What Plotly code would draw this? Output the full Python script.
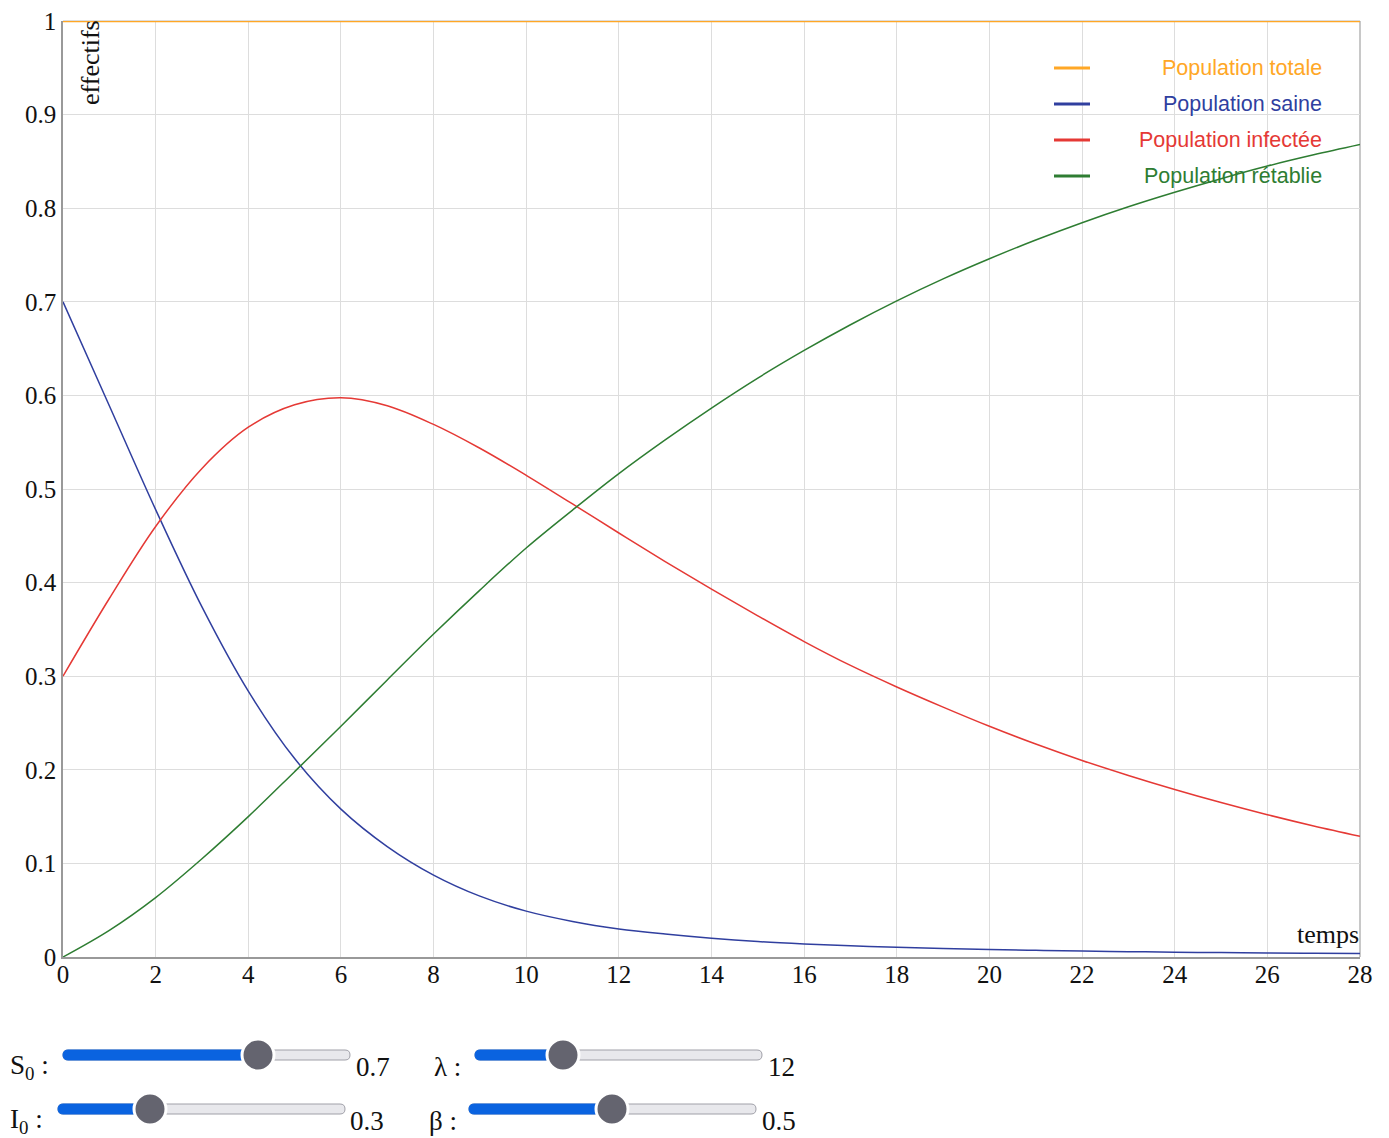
import plotly.graph_objects as go

# ---- data ----
temps = list(range(0, 29))
population_totale = [1.0, 1.0, 1.0, 1.0, 1.0, 1.0, 1.0, 1.0, 1.0, 1.0, 1.0, 1.0, 1.0, 1.0, 1.0,
                     1.0, 1.0, 1.0, 1.0, 1.0, 1.0, 1.0, 1.0, 1.0, 1.0, 1.0, 1.0, 1.0, 1.0]
population_saine = [0.700, 0.589, 0.478, 0.374, 0.284, 0.212, 0.158, 0.118, 0.0875, 0.065,
                    0.049, 0.038, 0.030, 0.0245, 0.0200, 0.0165, 0.0140, 0.0120, 0.0104, 0.0091,
                    0.0080, 0.0071, 0.0063, 0.0057, 0.0051, 0.0047, 0.0043, 0.0040, 0.0038]
population_infectee = [0.300, 0.383, 0.460, 0.522, 0.566, 0.590, 0.5975, 0.589, 0.569, 0.5435,
                       0.5146, 0.484, 0.453, 0.4225, 0.393, 0.3645, 0.337, 0.3115, 0.2885, 0.267,
                       0.2465, 0.2275, 0.210, 0.194, 0.179, 0.165, 0.152, 0.140, 0.129]
population_retablie = [0.0, 0.0285, 0.0635, 0.105, 0.150, 0.198, 0.2465, 0.296, 0.345, 0.392,
                       0.437, 0.4775, 0.5165, 0.5525, 0.5865, 0.6185, 0.648, 0.6755, 0.701, 0.7245,
                       0.746, 0.766, 0.7845, 0.8015, 0.817, 0.8315, 0.845, 0.857, 0.868]

series_names = ["Population totale", "Population saine", "Population infectée", "Population rétablie"]
series_colors = ["#FFA726", "#303F9F", "#E53935", "#2E7D32"]
series_values = [population_totale, population_saine, population_infectee, population_retablie]

x_ticks = list(range(0, 29, 2))
y_ticks = [0, 0.1, 0.2, 0.3, 0.4, 0.5, 0.6, 0.7, 0.8, 0.9, 1]
y_tick_labels = ["0", "0.1", "0.2", "0.3", "0.4", "0.5", "0.6", "0.7", "0.8", "0.9", "1"]

slider_labels = ["S<sub>0</sub> :", "I<sub>0</sub> :", "λ :", "β :"]
slider_values = ["0.7", "0.3", "12", "0.5"]

# ---- figure geometry ----
W, H = 1389, 1138
L, R, T, B = 63, 1360, 21, 957


def px(xp):
    return (xp - L) / (R - L)


def py(yp):
    return (B - yp) / (B - T)


fig = go.Figure()
for name, color, vals in zip(series_names, series_colors, series_values):
    width = 2.5 if name == "Population totale" else 1.5
    fig.add_trace(go.Scatter(x=temps, y=vals, mode="lines", name=name,
                             line=dict(color=color, width=width, shape="spline", smoothing=1.0),
                             showlegend=False, hoverinfo="skip"))

serif = "Liberation Serif, Times New Roman, serif"
sans = "Liberation Sans, Arial, sans-serif"

fig.update_layout(
    template="none",
    width=W, height=H,
    margin=dict(l=L, r=W - R, t=T, b=H - B, pad=0, autoexpand=False),
    paper_bgcolor="white", plot_bgcolor="white",
    font=dict(family=serif, size=25, color="#111"),
    xaxis=dict(range=[0, 28], tickvals=x_ticks, ticktext=[str(v) for v in x_ticks],
               showgrid=True, gridcolor="#dddddd", gridwidth=1.2, zeroline=False,
               showline=True, linecolor="#999999", linewidth=1.5, ticks="", ticklen=0,
               ticklabelstandoff=-6, automargin=False,
               tickfont=dict(family=serif, size=25, color="#111")),
    yaxis=dict(range=[0, 1], tickvals=y_ticks, ticktext=y_tick_labels,
               showgrid=True, gridcolor="#dddddd", gridwidth=1.2, zeroline=False,
               showline=True, linecolor="#999999", linewidth=1.5, ticks="", ticklen=0,
               automargin=False,
               tickfont=dict(family=serif, size=25, color="#111")),
)

shapes = []
annotations = []
# top and right border
shapes.append(dict(type="line", xref="paper", yref="paper", x0=0, x1=1, y0=1, y1=1,
                   line=dict(color="#d0d0d0", width=1.5), layer="below"))
shapes.append(dict(type="line", xref="paper", yref="paper", x0=1, x1=1, y0=0, y1=1,
                   line=dict(color="#c8c8c8", width=2), layer="below"))

# axis titles
annotations.append(dict(text="effectifs", xref="paper", yref="paper", x=px(74), y=py(18),
                        xanchor="left", yanchor="top", textangle=-90, showarrow=False,
                        font=dict(family=serif, size=26, color="#111")))
annotations.append(dict(text="temps", xref="paper", yref="paper", x=px(1361), y=py(951),
                        xanchor="right", yanchor="bottom", showarrow=False,
                        font=dict(family=serif, size=26, color="#111")))

# legend (custom, right-aligned text)
leg_y = [68, 104, 140, 176]
for name, color, yy in zip(series_names, series_colors, leg_y):
    shapes.append(dict(type="line", xref="paper", yref="paper", x0=px(1054), x1=px(1090),
                       y0=py(yy), y1=py(yy), line=dict(color=color, width=3)))
    annotations.append(dict(text=name, xref="paper", yref="paper", x=px(1324), y=py(yy),
                            xanchor="right", yanchor="middle", showarrow=False,
                            font=dict(family=sans, size=21.5, color=color)))

# sliders
slider_specs = [
    # (track x0, track x1, center y, knob x, label x, value x)
    (63, 350, 1055, 258, 8, 354),
    (58, 345, 1109, 150, 8, 348),
    (475, 762, 1055, 563, 432, 766),
    (469, 756, 1109, 612, 427, 760),
]


def rounded_bar(x0, x1, yc, h):
    r = h / 2
    return dict(type="path", xref="paper", yref="paper",
                path=(f"M {px(x0 + r)} {py(yc - r)} L {px(x1 - r)} {py(yc - r)} "
                      f"Q {px(x1)} {py(yc - r)} {px(x1)} {py(yc)} "
                      f"Q {px(x1)} {py(yc + r)} {px(x1 - r)} {py(yc + r)} "
                      f"L {px(x0 + r)} {py(yc + r)} "
                      f"Q {px(x0)} {py(yc + r)} {px(x0)} {py(yc)} "
                      f"Q {px(x0)} {py(yc - r)} {px(x0 + r)} {py(yc - r)} Z"))


for (tx0, tx1, yc, kx, lx, vx), lab, val in zip(slider_specs, slider_labels, slider_values):
    track = rounded_bar(tx0, tx1, yc, 10)
    track.update(fillcolor="#e8e8ec", line=dict(color="#a0a0a8", width=1))
    shapes.append(track)
    fill = rounded_bar(tx0, kx, yc, 10)
    fill.update(fillcolor="#0a63e0", line=dict(color="#0a63e0", width=1))
    shapes.append(fill)
    rk = 16
    shapes.append(dict(type="circle", xref="paper", yref="paper",
                       x0=px(kx - rk), x1=px(kx + rk), y0=py(yc + rk), y1=py(yc - rk),
                       fillcolor="#64646f", line=dict(color="white", width=3)))
    annotations.append(dict(text=lab, xref="paper", yref="paper", x=px(lx), y=py(yc + 12),
                            xanchor="left", yanchor="middle", showarrow=False,
                            font=dict(family=serif, size=27, color="#111")))
    annotations.append(dict(text=val, xref="paper", yref="paper", x=px(vx), y=py(yc + 12),
                            xanchor="left", yanchor="middle", showarrow=False,
                            font=dict(family=serif, size=27, color="#111")))

fig.update_layout(shapes=shapes, annotations=annotations)
fig.write_html("out.html", config={"displayModeBar": False},
               post_script="document.body.style.margin='0px';document.body.style.overflow='hidden';")
